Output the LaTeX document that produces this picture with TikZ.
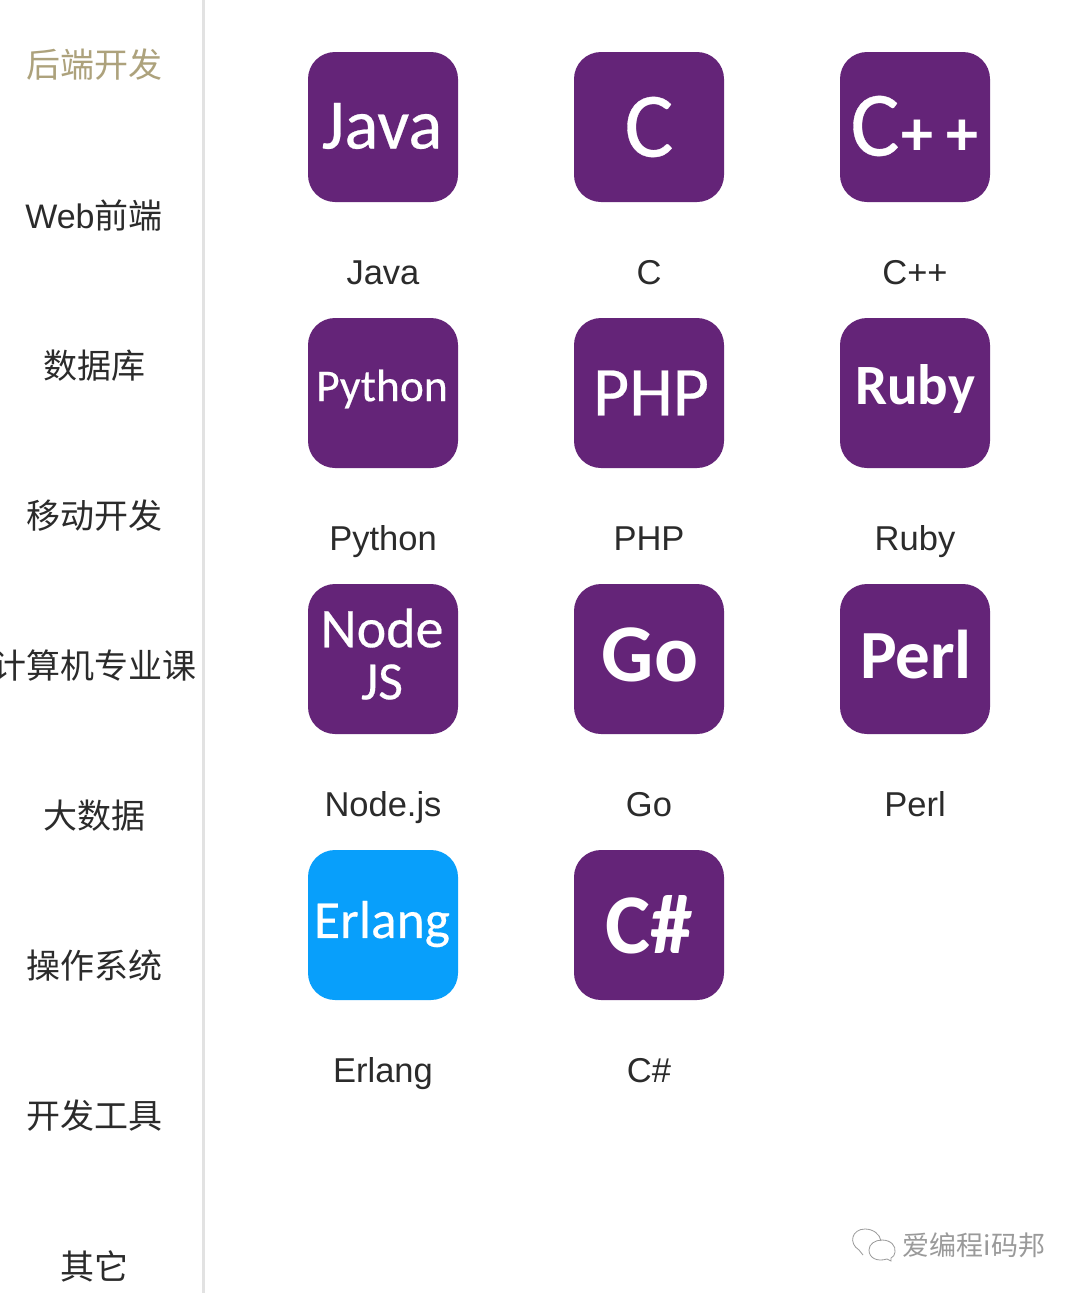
\documentclass[tikz,border=0pt]{standalone}
\usepackage{fontspec}
\setmainfont{Liberation Sans}
\newfontfamily\cjk{Noto Sans CJK SC}
\newfontfamily\icf[FakeBold=0.35]{Carlito}
\newfontfamily\icb{Carlito Bold}
\definecolor{purp}{HTML}{642478}
\definecolor{blu}{HTML}{089FFB}
\definecolor{gold}{HTML}{ADA27C}
\definecolor{ink}{HTML}{2B2B2B}
\definecolor{rule}{HTML}{E2E2E2}
\definecolor{wm}{HTML}{9A9A9A}
\begin{document}
\begin{tikzpicture}[x=1pt,y=-1pt,
  menu/.style={font=\cjk\fontsize{34}{34}\selectfont,text=ink,anchor=center,inner sep=0pt},
  icon/.style={fill=purp,rounded corners=27pt,minimum size=150pt,inner sep=0pt,draw=none,anchor=center},
  itxt/.style={font=\icf\fontsize{#1}{#1}\selectfont,text=white,inner sep=0pt,anchor=center,align=center},
  ibold/.style={font=\icb\fontsize{#1}{#1}\selectfont,text=white,inner sep=0pt,anchor=center,align=center},
  lbl/.style={font=\fontsize{34.5}{34.5}\selectfont,text=ink,inner sep=0pt,anchor=base}]
\useasboundingbox (0,0) rectangle (1080,1293);
\clip (0,0) rectangle (1080,1293);
\fill[white] (0,0) rectangle (1080,1293);
\fill[rule] (202,0) rectangle (205,1293);
\node[menu,text=gold] (m1) at (94,65) {后端开发};
\node[menu] (m2) at (94,216) {\rmfamily Web\cjk 前端};
\node[menu] (m3) at (94,366) {数据库};
\node[menu] (m4) at (94,516) {移动开发};
\node[menu] (m5) at (95,666) {计算机专业课};
\node[menu] (m6) at (94,816) {大数据};
\node[menu] (m7) at (94,966) {操作系统};
\node[menu] (m8) at (94,1116) {开发工具};
\node[menu] (m9) at (94,1266) {其它};
% row 1
\node[icon] (i1) at (383,127) {}; \node[itxt=71] (t1) at (382,126) {Java}; \node[lbl] (l1) at (383,284) {Java};
\node[icon] (i2) at (649,127) {}; \node[itxt=92] (t2) at (649,127) {C}; \node[lbl] (l2) at (649,284) {C};
\node[icon] (i3) at (915,127) {}; \node[itxt=92] (t3) at (875,126) {C}; \node[ibold=64] (t3b) at (917.5,138) {+}; \node[ibold=64] (t3c) at (962,138) {+}; \node[lbl] (l3) at (915,284) {C++};
% row 2
\node[icon] (i4) at (383,393) {}; \node[itxt=45.5] (t4) at (382,389) {Python}; \node[lbl] (l4) at (383,550) {Python};
\node[icon] (i5) at (649,393) {}; \node[itxt=70] (t5) at (651,393) {PHP}; \node[lbl] (l5) at (649,550) {PHP};
\node[icon] (i6) at (915,393) {}; \node[ibold=57] (t6) at (915,389) {Ruby}; \node[lbl] (l6) at (915,550) {Ruby};
% row 3
\node[icon] (i7) at (383,659) {}; \node[itxt=56] (t7) at (382,628) {Node}; \node[itxt=54] (t7b) at (382,682) {JS}; \node[lbl] (l7) at (383,816) {Node.js};
\node[icon] (i8) at (649,659) {}; \node[ibold=82] (t8) at (650,655) {Go}; \node[lbl] (l8) at (649,816) {Go};
\node[icon] (i9) at (915,659) {}; \node[ibold=69] (t9) at (916,655) {Perl}; \node[lbl] (l9) at (915,816) {Perl};
% row 4
\node[icon,fill=blu] (i10) at (383,925) {}; \node[itxt=53.5] (t10) at (382,924) {Erlang}; \node[lbl] (l10) at (383,1082) {Erlang};
\node[icon] (i11) at (649,925) {}; \node[ibold=85] (t11) at (649,925) {C\#}; \node[lbl] (l11) at (649,1082) {C\#};
% watermark
\begin{scope}[draw=wm,line width=0.8pt]
\draw (863,1255) -- (859,1250) .. controls (848,1243) and (852,1229) .. (865,1229) .. controls (873,1229) and (880,1234) .. (881,1241);
\draw (882,1240) .. controls (891,1240) and (896,1246) .. (895,1252) .. controls (895,1255) and (893,1257) .. (891,1258) -- (891,1261) -- (887,1259) .. controls (877,1262) and (869,1258) .. (869,1250) .. controls (869,1244) and (875,1240) .. (882,1240);
\end{scope}
\node[font=\cjk\fontsize{27}{27}\selectfont,text=wm,inner sep=0pt,anchor=center] (wm) at (974,1245) {爱编程i码邦};
\end{tikzpicture}
\end{document}
